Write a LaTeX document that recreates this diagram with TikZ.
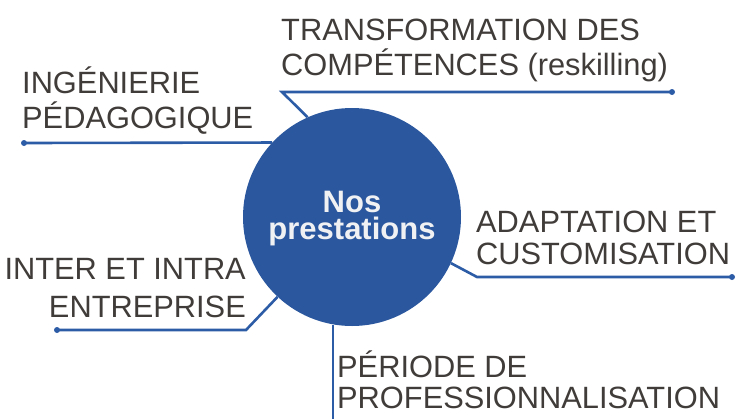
\documentclass[tikz,border=0pt]{standalone}
\usepackage{fontspec}
\setmainfont{Liberation Sans}
\definecolor{hub}{HTML}{2A579E}
\definecolor{wire}{HTML}{2D5CA6}
\definecolor{ink}{HTML}{403C3A}
\definecolor{paper}{HTML}{F0F1F3}
\tikzset{
  label/.style={inner sep=0pt, text=ink, font=\fontsize{30.8}{34}\selectfont},
  hubtext/.style={inner sep=0pt, text=paper, align=center, font=\fontsize{31}{27}\bfseries\selectfont},
  wireline/.style={draw=wire, line width=2.6pt, line join=miter},
  dotmark/.style={fill=wire}
}
\begin{document}
\begin{tikzpicture}[x=1pt,y=-1pt]
\useasboundingbox (0,0) rectangle (736,418);
% hub
\node[circle, fill=hub, minimum size=218pt, inner sep=0pt] (c) at (352,217) {};
\node[hubtext] (h) at (352,218.5) {Nos\\prestations};
% coordinates
\coordinate (d1) at (24,143);
\coordinate (k2) at (282,92);
\coordinate (d2) at (672,92);
\coordinate (k3) at (477,277);
\coordinate (d3) at (732,277);
\coordinate (k4) at (246,330);
\coordinate (d4) at (57,330);
\coordinate (e5) at (333,420);
% connectors
\draw[wireline] (c.137.2) -- (d1);
\draw[wireline] (c.114.2) -- (k2) -- (d2);
\draw[wireline] (c.-25) -- (k3) -- (d3);
\draw[wireline] (c.227.2) -- (k4) -- (d4);
\draw[wireline] (c.260) -- (c.260 |- e5);
\fill[dotmark] (d1) circle (3pt);
\fill[dotmark] (d2) circle (3pt);
\fill[dotmark] (d3) circle (3pt);
\fill[dotmark] (d4) circle (3pt);
% labels
\node[label, anchor=base west] (l1a) at (22,93) {INGÉNIERIE};
\node[label, anchor=base west] (l1b) at (22,128) {PÉDAGOGIQUE};
\node[label, anchor=base west] (l2a) at (281,40) {TRANSFORMATION DES};
\node[label, anchor=base west] (l2b) at (281,75) {COMPÉTENCES (reskilling)};
\node[label, anchor=base west] (l3a) at (476,232) {ADAPTATION ET};
\node[label, anchor=base west] (l3b) at (476,264) {CUSTOMISATION};
\node[label, anchor=base east] (l4a) at (246,279) {INTER ET INTRA};
\node[label, anchor=base east] (l4b) at (246,317) {ENTREPRISE};
\node[label, anchor=base west] (l5a) at (337,377) {PÉRIODE DE};
\node[label, anchor=base west] (l5b) at (337,408) {PROFESSIONNALISATION};
\end{tikzpicture}
\end{document}
